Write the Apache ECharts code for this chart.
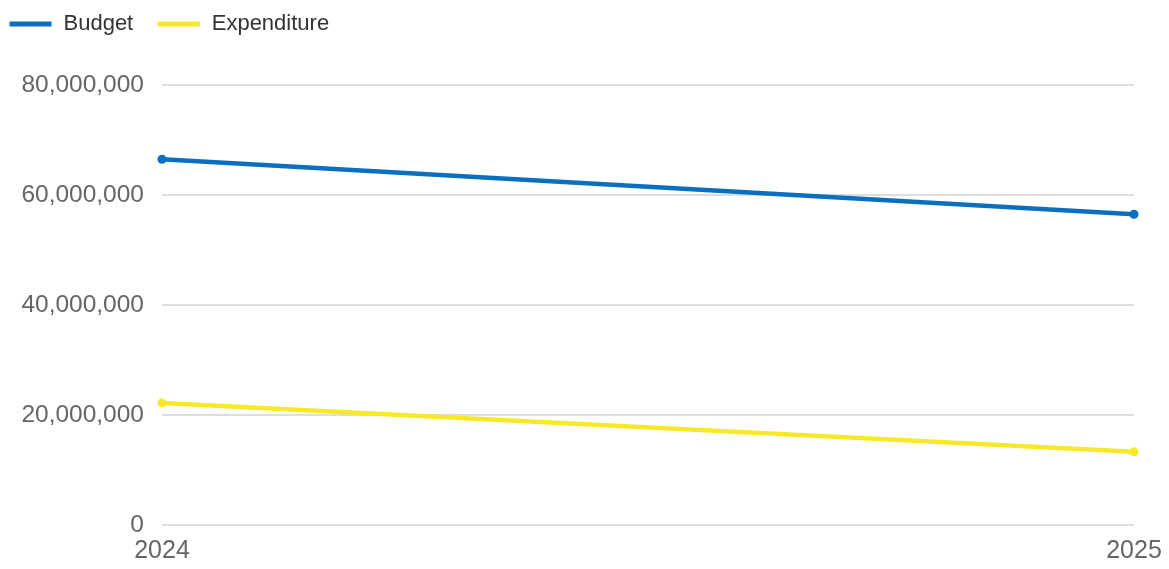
<!DOCTYPE html>
<html>
<head>
<meta charset="utf-8">
<script src="https://cdn.jsdelivr.net/npm/echarts@6/dist/echarts.min.js"></script>
<style>
html,body{margin:0;padding:0;background:#fff;}
#chart{width:1169px;height:569px;}
</style>
</head>
<body>
<div id="chart"></div>
<script>
const categories = ['2024', '2025'];
const budget = [66500000, 56500000];
const expenditure = [22200000, 13300000];
const yTicks = [0, 20000000, 40000000, 60000000, 80000000];

const chart = echarts.init(document.getElementById('chart'), null, {renderer: 'canvas'});
chart.setOption({
  animation: false,
  backgroundColor: '#ffffff',
  legend: {
    left: 2, top: 8,
    itemWidth: 42, itemHeight: 10, itemGap: 22,
    lineStyle: {width: 5},
    itemStyle: {opacity: 0},
    textStyle: {fontFamily: 'Liberation Sans, Arial, sans-serif', fontSize: 22, color: '#333333', padding: [0, 0, 0, 7]},
    data: ['Budget', 'Expenditure']
  },
  grid: {left: 162, right: 35, top: 85, bottom: 44, containLabel: false},
  xAxis: {
    type: 'category',
    data: categories,
    boundaryGap: false,
    axisLine: {show: false},
    axisTick: {show: false},
    axisLabel: {fontFamily: 'Liberation Sans, Arial, sans-serif', fontSize: 25, color: '#666666', margin: 14}
  },
  yAxis: {
    type: 'value',
    min: yTicks[0], max: yTicks[yTicks.length - 1], interval: 20000000,
    axisLine: {show: false},
    axisTick: {show: false},
    splitLine: {lineStyle: {color: '#dddddd', width: 2}},
    axisLabel: {
      fontFamily: 'Liberation Sans, Arial, sans-serif', fontSize: 24.5, color: '#666666', margin: 18,
      formatter: v => v.toLocaleString('en-US')
    }
  },
  series: [
    {
      name: 'Budget', type: 'line', data: budget,
      color: '#0b6fc0',
      lineStyle: {width: 4.5, color: '#0b6fc0'},
      symbol: 'circle', symbolSize: 9,
      itemStyle: {color: '#0b6fc0'}
    },
    {
      name: 'Expenditure', type: 'line', data: expenditure,
      color: '#f7e92a',
      lineStyle: {width: 4.5, color: '#f7e92a'},
      symbol: 'circle', symbolSize: 9,
      itemStyle: {color: '#f7e92a'}
    }
  ]
});
</script>
</body>
</html>
